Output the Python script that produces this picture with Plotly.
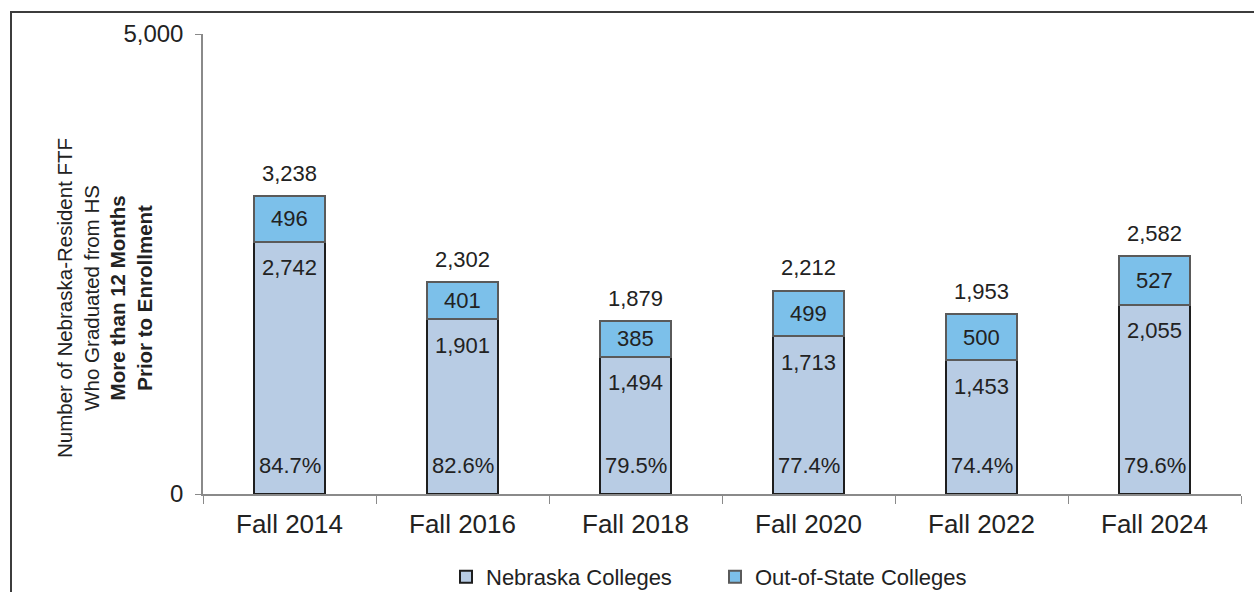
import plotly.graph_objects as go

# Nebraska-resident first-time freshmen who graduated from HS more than 12 months before enrolling
terms = ["Fall 2014", "Fall 2016", "Fall 2018", "Fall 2020", "Fall 2022", "Fall 2024"]
nebraska = [2742, 1901, 1494, 1713, 1453, 2055]
out_of_state = [496, 401, 385, 499, 500, 527]
totals = [n + o for n, o in zip(nebraska, out_of_state)]
y_ticks = [0, 5000]

FONT = "Liberation Sans, Arial, sans-serif"
TEXT = "#222222"
NE_FILL = "#b8cce4"
OOS_FILL = "#7cc0ea"

fig = go.Figure()
fig.add_trace(go.Bar(
    x=terms, y=nebraska, name="Nebraska Colleges",
    marker=dict(color=NE_FILL, line=dict(color="#1e1e1e", width=2)),
    hoverinfo="skip",
))
fig.add_trace(go.Bar(
    x=terms, y=out_of_state, name="Out-of-State Colleges",
    marker=dict(color=OOS_FILL, line=dict(color="#5a5a5a", width=2)),
    hoverinfo="skip",
))

annotations = []
for t, n, o, tot in zip(terms, nebraska, out_of_state, totals):
    lab = dict(xref="x", yref="y", x=t, showarrow=False,
               font=dict(family=FONT, size=22, color=TEXT))
    # total above the stack
    annotations.append(dict(lab, y=tot, yshift=23, text=f"{tot:,}"))
    # out-of-state count centred in its segment
    annotations.append(dict(lab, y=n + o / 2, text=f"{o:,}"))
    # Nebraska count just under the top of its segment
    annotations.append(dict(lab, y=n, yshift=-26, text=f"{n:,}"))
    # share attending Nebraska colleges, near the base
    annotations.append(dict(lab, y=0, yshift=29, text=f"{n / tot * 100:.1f}%"))

L, R, T, B = 203, 1241, 34, 494
def px_x(p):
    return (p - L) / (R - L)
def px_y(p):
    return (B - p) / (B - T)

# rotated y-axis title
annotations.append(dict(
    xref="paper", yref="paper", x=px_x(104), y=px_y(298), showarrow=False,
    xanchor="center", yanchor="middle",
    textangle=-90, align="center",
    font=dict(family=FONT, size=20.5, color=TEXT),
    text=("Number of Nebraska-Resident FTF<br>Who Graduated from HS<br>"
          "<b>More than 12 Months</b><br><b>Prior to Enrollment</b>"),
))

# outer frame (left and top edges)
shapes = [dict(
    type="path", xref="paper", yref="paper",
    path=f"M {px_x(11)} {px_y(600)} L {px_x(11)} {px_y(12)} L {px_x(1262)} {px_y(12)}",
    line=dict(color="#3c3c3c", width=2),
)]

fig.update_layout(
    barmode="stack",
    bargap=0.595,
    width=1254, height=592,
    margin=dict(l=L, r=1254 - R, t=T, b=592 - B, autoexpand=False),
    plot_bgcolor="white", paper_bgcolor="white",
    font=dict(family=FONT, color=TEXT),
    showlegend=True,
    legend=dict(
        orientation="h", x=px_x(446), xanchor="left", y=px_y(577), yanchor="middle",
        font=dict(family=FONT, size=22, color=TEXT),
        itemwidth=30, traceorder="normal",
        entrywidth=224, entrywidthmode="pixels",
    ),
    annotations=annotations,
    shapes=shapes,
)

fig.update_xaxes(
    showline=True, linecolor="#8a8a8a", linewidth=1.5,
    ticks="outside", tickson="boundaries", ticklen=8, tickcolor="#8a8a8a",
    tickfont=dict(family=FONT, size=26, color=TEXT),
    ticklabelstandoff=6,
    showgrid=False,
)
fig.update_yaxes(
    range=[0, 5000], tickvals=y_ticks, tickformat=",",
    showline=True, linecolor="#8a8a8a", linewidth=1.5,
    ticks="outside", ticklen=6, tickcolor="#8a8a8a",
    tickfont=dict(family=FONT, size=24, color=TEXT),
    ticklabelstandoff=7,
    showgrid=True, gridcolor="#8c8c8c", gridwidth=2,
    zeroline=False,
)

fig.write_html("out.html")
